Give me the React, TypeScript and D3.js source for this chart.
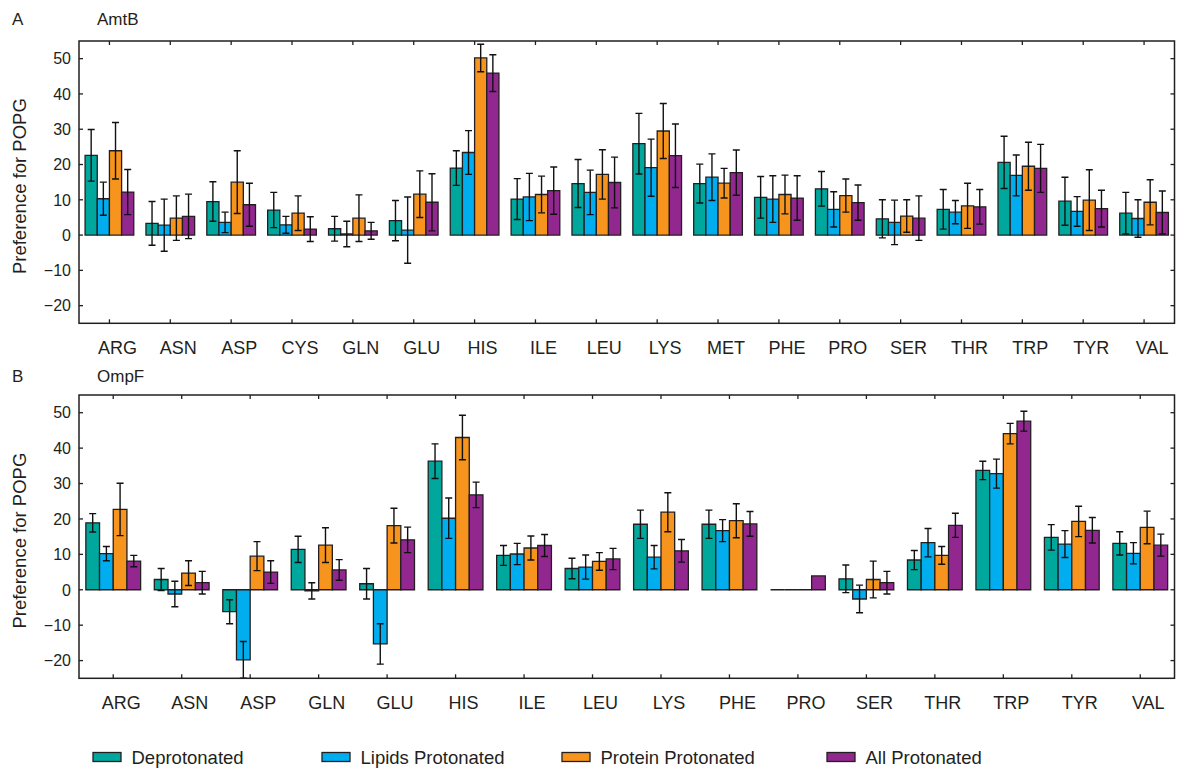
import React from "react";
import * as d3 from "d3";

const seriesNames = ["Deprotonated", "Lipids Protonated", "Protein Protonated", "All Protonated"];
const seriesColors = ["#00A79D", "#00AEEF", "#F7941D", "#92278F"];
const yTicks = [-20, -10, 0, 10, 20, 30, 40, 50];

const amtbCategories = ["ARG", "ASN", "ASP", "CYS", "GLN", "GLU", "HIS", "ILE", "LEU", "LYS", "MET", "PHE", "PRO", "SER", "THR", "TRP", "TYR", "VAL"];
const amtbDeprotonated = [22.6, 3.3, 9.5, 7.1, 1.8, 4.1, 19.0, 10.2, 14.6, 25.9, 14.6, 10.7, 13.1, 4.6, 7.3, 20.6, 9.6, 6.2];
const amtbDeprotonatedErr = [7.3, 6.2, 5.6, 5.0, 3.5, 5.7, 4.9, 5.8, 6.8, 8.6, 5.5, 5.9, 4.9, 5.4, 5.6, 7.4, 6.8, 5.9];
const amtbLipids = [10.3, 2.8, 3.6, 2.9, 0.3, 1.4, 23.4, 10.8, 12.1, 19.1, 16.4, 10.2, 7.3, 3.6, 6.5, 16.9, 6.7, 4.7];
const amtbLipidsErr = [4.7, 7.4, 2.9, 2.4, 3.6, 9.4, 6.2, 6.7, 6.3, 8.1, 6.6, 6.6, 5.0, 6.3, 3.3, 5.8, 4.2, 5.3];
const amtbProtein = [23.9, 4.8, 15.0, 6.2, 4.8, 11.6, 50.2, 11.5, 17.2, 29.5, 14.7, 11.5, 11.2, 5.4, 8.3, 19.5, 9.9, 9.3];
const amtbProteinErr = [8.0, 6.3, 8.9, 4.9, 6.6, 6.6, 3.9, 5.2, 7.0, 7.8, 4.2, 5.5, 4.7, 4.6, 6.4, 6.8, 8.6, 6.4];
const amtbAll = [12.2, 5.3, 8.6, 1.7, 1.2, 9.3, 45.9, 12.6, 14.9, 22.5, 17.7, 10.5, 9.2, 4.8, 8.0, 18.9, 7.5, 6.4];
const amtbAllErr = [6.4, 6.3, 6.1, 3.5, 2.4, 8.1, 5.2, 6.7, 7.2, 9.0, 6.4, 6.3, 5.0, 6.3, 4.9, 6.8, 5.2, 6.1];

const ompfCategories = ["ARG", "ASN", "ASP", "GLN", "GLU", "HIS", "ILE", "LEU", "LYS", "PHE", "PRO", "SER", "THR", "TRP", "TYR", "VAL"];
const ompfDeprotonated = [18.9, 2.9, -6.2, 11.4, 1.7, 36.3, 9.7, 6.0, 18.5, 18.5, 0, 3.1, 8.4, 33.7, 14.8, 13.1];
const ompfDeprotonatedErr = [2.6, 3.1, 3.4, 3.7, 4.3, 4.9, 2.8, 2.9, 4.0, 4.0, 0, 3.9, 2.7, 2.6, 3.6, 3.3];
const ompfLipids = [10.2, -1.2, -19.8, -0.3, -15.3, 20.2, 10.1, 6.4, 9.2, 16.7, 0, -2.6, 13.3, 32.8, 12.9, 10.3];
const ompfLipidsErr = [2.0, 3.6, 5.2, 2.3, 5.7, 5.7, 3.0, 3.4, 3.3, 3.1, 0, 3.9, 4.0, 4.1, 3.8, 3.0];
const ompfProtein = [22.7, 4.7, 9.5, 12.6, 18.1, 43.0, 11.8, 8.0, 21.9, 19.5, 0, 2.9, 9.7, 44.1, 19.3, 17.6];
const ompfProteinErr = [7.4, 3.5, 4.1, 4.9, 4.9, 6.3, 3.4, 2.5, 5.5, 4.8, 0, 5.2, 2.5, 2.9, 4.3, 4.6];
const ompfAll = [8.1, 2.0, 5.0, 5.6, 14.1, 26.8, 12.5, 8.7, 11.0, 18.6, 3.9, 2.0, 18.2, 47.6, 16.8, 12.6];
const ompfAllErr = [1.6, 3.2, 3.2, 2.9, 3.6, 3.6, 3.1, 3.0, 3.2, 3.5, 0, 3.2, 3.4, 2.8, 3.6, 3.1];

const FONT = "'Liberation Sans', Arial, Helvetica, sans-serif";
const INK = "#231f20";
const LEFT = 79;
const RIGHT = 1174.5;

type PanelProps = {
  id: string;
  letter: string;
  title: string;
  letterY: number;
  top: number;
  bottom: number;
  categories: string[];
  values: number[][];
  errors: number[][];
};

function Panel({ id, letter, title, letterY, top, bottom, categories, values, errors }: PanelProps) {
  const x = d3.scaleBand<string>().domain(categories).range([LEFT, RIGHT]).paddingInner(0).paddingOuter(0);
  const bw = x.bandwidth();
  const inner = d3.scaleBand<number>().domain(d3.range(seriesNames.length)).range([bw * 0.1, bw * 0.9]);
  const y = d3.scaleLinear().domain([-25, 55]).range([bottom, top]);
  const y0 = y(0);
  const capHalf = 3.5;
  return (
    <g>
      <defs>
        <clipPath id={`clip-${id}`}>
          <rect x={LEFT} y={top} width={RIGHT - LEFT} height={bottom - top} />
        </clipPath>
      </defs>
      <text x={12} y={letterY} fontSize={17} fontFamily={FONT} fill={INK}>{letter}</text>
      <text x={97} y={letterY} fontSize={17} fontFamily={FONT} fill={INK}>{title}</text>
      <g clipPath={`url(#clip-${id})`}>
        {categories.map((c, ci) =>
          seriesNames.map((s, si) => {
            const v = values[si][ci];
            const x0 = (x(c) as number) + (inner(si) as number);
            const x1 = x0 + inner.bandwidth();
            const yv = y(v);
            const d = `M${x0},${y0}H${x1}V${yv}H${x0}Z`;
            return <path key={`${c}-${s}`} d={d} fill={seriesColors[si]} stroke={INK} strokeWidth={1.3} />;
          })
        )}
        {categories.map((c, ci) =>
          seriesNames.map((s, si) => {
            const v = values[si][ci];
            const e = errors[si][ci];
            if (!e) return null;
            const cx = (x(c) as number) + (inner(si) as number) + inner.bandwidth() / 2;
            const ya = y(v + e);
            const yb = y(v - e);
            return (
              <g key={`e-${c}-${s}`} stroke="#111" strokeWidth={1.4} fill="none">
                <line x1={cx} x2={cx} y1={ya} y2={yb} />
                <line x1={cx - capHalf} x2={cx + capHalf} y1={ya} y2={ya} />
                <line x1={cx - capHalf} x2={cx + capHalf} y1={yb} y2={yb} />
              </g>
            );
          })
        )}
      </g>
      <rect x={LEFT} y={top} width={RIGHT - LEFT} height={bottom - top} fill="none" stroke={INK} strokeWidth={1.5} />
      {yTicks.map((t) => (
        <g key={`yt-${t}`}>
          <line x1={LEFT} x2={LEFT + 4} y1={y(t)} y2={y(t)} stroke={INK} strokeWidth={1.3} />
          <line x1={RIGHT} x2={RIGHT - 4} y1={y(t)} y2={y(t)} stroke={INK} strokeWidth={1.3} />
          <text x={71} y={y(t)} dy="0.36em" textAnchor="end" fontSize={16} fontFamily={FONT} fill={INK}>
            {t < 0 ? `\u2212${Math.abs(t)}` : `${t}`}
          </text>
        </g>
      ))}
      {categories.map((c) => {
        const cx = (x(c) as number) + bw / 2;
        return (
          <g key={`xt-${c}`}>
            <line x1={cx} x2={cx} y1={top} y2={top + 4} stroke={INK} strokeWidth={1.3} />
            <line x1={cx} x2={cx} y1={bottom} y2={bottom - 4} stroke={INK} strokeWidth={1.3} />
            <text x={cx + 8} y={bottom + 30.5} textAnchor="middle" fontSize={18} fontFamily={FONT} fill={INK}>
              {c}
            </text>
          </g>
        );
      })}
      <text
        transform={`translate(26,${(top + bottom) / 2 + 4}) rotate(-90)`}
        textAnchor="middle"
        fontSize={18.5}
        fontFamily={FONT}
        fill={INK}
      >
        Preference for POPG
      </text>
    </g>
  );
}

const legendX = [93, 322, 562, 827];

export default function App() {
  return (
    <div style={{ position: "absolute", left: 0, top: 0 }}>
      <svg width={1179} height={772} viewBox="0 0 1179 772" style={{ display: "block", background: "#fff" }}>
        <rect x={0} y={0} width={1179} height={772} fill="#fff" />
        <Panel
          id="a"
          letter="A"
          title="AmtB"
          letterY={25}
          top={41}
          bottom={323.3}
          categories={amtbCategories}
          values={[amtbDeprotonated, amtbLipids, amtbProtein, amtbAll]}
          errors={[amtbDeprotonatedErr, amtbLipidsErr, amtbProteinErr, amtbAllErr]}
        />
        <Panel
          id="b"
          letter="B"
          title="OmpF"
          letterY={382}
          top={395}
          bottom={678.3}
          categories={ompfCategories}
          values={[ompfDeprotonated, ompfLipids, ompfProtein, ompfAll]}
          errors={[ompfDeprotonatedErr, ompfLipidsErr, ompfProteinErr, ompfAllErr]}
        />
        {seriesNames.map((s, i) => (
          <g key={`lg-${s}`}>
            <rect x={legendX[i]} y={752.5} width={28} height={9} fill={seriesColors[i]} stroke={INK} strokeWidth={1.3} />
            <text x={legendX[i] + 38.5} y={764.3} fontSize={18.5} fontFamily={FONT} fill={INK}>
              {s}
            </text>
          </g>
        ))}
      </svg>
    </div>
  );
}
